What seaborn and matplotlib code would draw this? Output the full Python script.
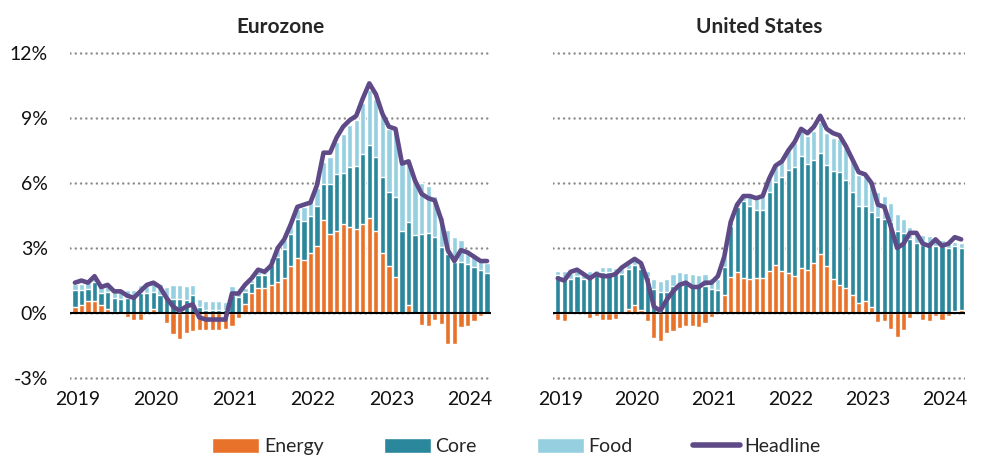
import numpy as np
import pandas as pd
import seaborn as sns
import matplotlib.pyplot as plt
from matplotlib.patches import Patch
from matplotlib.lines import Line2D

# monthly, Jan 2019 - Apr 2024 (contributions in pp, headline in %)
months = pd.date_range("2019-01-01", "2024-04-01", freq="MS")
years = [2019, 2020, 2021, 2022, 2023, 2024]

ez_energy = [0.28, 0.35, 0.55, 0.55, 0.35, 0.18, 0.05, -0.06, -0.17, -0.30, -0.31, 0.02,
             0.19, -0.03, -0.44, -0.95, -1.18, -0.92, -0.82, -0.77, -0.80, -0.80, -0.80, -0.75,
             -0.60, -0.23, 0.41, 0.94, 1.14, 1.14, 1.30, 1.45, 1.60, 2.18, 2.54, 2.44,
             2.77, 3.09, 4.29, 3.65, 3.80, 4.10, 3.99, 3.90, 4.10, 4.38, 3.77, 2.77,
             2.16, 1.64, 0.00, 0.35, -0.05, -0.56, -0.60, -0.30, -0.50, -1.41, -1.41, -0.65,
             -0.58, -0.35, -0.12, -0.05]
ez_core = [0.77, 0.70, 0.56, 0.88, 0.56, 0.77, 0.63, 0.63, 0.70, 0.77, 0.91, 0.91,
           0.77, 0.84, 0.70, 0.65, 0.65, 0.60, 0.84, 0.28, 0.16, 0.16, 0.16, 0.16,
           0.84, 0.76, 0.55, 0.46, 0.60, 0.60, 0.90, 1.14, 1.37, 1.47, 1.80, 1.82,
           1.72, 1.86, 1.68, 2.30, 2.60, 2.37, 2.74, 2.87, 3.24, 3.38, 3.41, 3.50,
           3.44, 3.72, 3.77, 3.85, 3.60, 3.65, 3.68, 3.50, 3.04, 2.74, 2.36, 2.36,
           2.25, 2.13, 2.00, 1.87]
ez_food = [0.30, 0.28, 0.28, 0.30, 0.32, 0.32, 0.28, 0.34, 0.34, 0.30, 0.38, 0.42,
           0.44, 0.48, 0.52, 0.66, 0.64, 0.66, 0.45, 0.36, 0.38, 0.38, 0.38, 0.36,
           0.40, 0.20, 0.20, 0.14, 0.14, 0.12, 0.32, 0.40, 0.38, 0.40, 0.46, 0.64,
           0.70, 0.84, 1.00, 1.26, 1.50, 1.78, 1.96, 2.12, 2.36, 2.55, 2.72, 2.90,
           2.90, 3.05, 3.30, 2.80, 2.60, 2.36, 2.20, 1.90, 1.40, 1.10, 1.15, 1.00,
           0.67, 0.50, 0.43, 0.44]
ez_headline = [1.4, 1.5, 1.4, 1.7, 1.2, 1.3, 1.0, 1.0, 0.8, 0.7, 1.0, 1.3,
               1.4, 1.2, 0.7, 0.3, 0.1, 0.3, 0.4, -0.2, -0.3, -0.3, -0.3, -0.3,
               0.9, 0.9, 1.3, 1.6, 2.0, 1.9, 2.2, 3.0, 3.4, 4.1, 4.9, 5.0,
               5.1, 5.9, 7.4, 7.4, 8.1, 8.6, 8.9, 9.1, 9.9, 10.6, 10.1, 9.2,
               8.6, 8.5, 6.9, 7.0, 6.1, 5.5, 5.3, 5.2, 4.3, 2.9, 2.4, 2.9,
               2.8, 2.6, 2.4, 2.4]

us_energy = [-0.33, -0.35, -0.03, 0.05, -0.02, -0.22, -0.14, -0.30, -0.30, -0.28, -0.03, 0.20,
             0.39, 0.15, -0.39, -1.17, -1.28, -0.93, -0.85, -0.70, -0.62, -0.58, -0.65, -0.46,
             -0.20, 0.05, 0.85, 1.65, 1.88, 1.60, 1.55, 1.60, 1.60, 1.95, 2.20, 1.92,
             1.85, 1.70, 2.10, 2.00, 2.30, 2.74, 2.18, 1.57, 1.30, 1.15, 0.85, 0.46,
             0.54, 0.30, -0.43, -0.35, -0.74, -1.10, -0.77, -0.23, 0.00, -0.30, -0.38, -0.15,
             -0.30, -0.12, 0.08, 0.15]
us_core = [1.74, 1.66, 1.58, 1.66, 1.58, 1.66, 1.74, 1.90, 1.90, 1.82, 1.82, 1.82,
           1.82, 1.90, 1.66, 1.10, 0.95, 0.95, 1.26, 1.34, 1.34, 1.26, 1.26, 1.26,
           1.10, 1.03, 1.26, 2.37, 3.00, 3.55, 3.40, 3.16, 3.16, 3.63, 3.87, 4.35,
           4.74, 5.06, 5.14, 4.90, 4.74, 4.66, 4.66, 4.98, 5.20, 4.98, 4.74, 4.50,
           4.42, 4.35, 4.42, 4.35, 4.19, 3.80, 3.70, 3.40, 3.24, 3.16, 3.16, 3.08,
           3.08, 3.00, 3.00, 2.84]
us_food = [0.22, 0.27, 0.28, 0.24, 0.27, 0.26, 0.26, 0.23, 0.24, 0.28, 0.27, 0.24,
           0.24, 0.24, 0.26, 0.47, 0.54, 0.61, 0.55, 0.55, 0.53, 0.53, 0.50, 0.53,
           0.51, 0.49, 0.47, 0.32, 0.30, 0.32, 0.46, 0.50, 0.62, 0.72, 0.82, 0.85,
           0.95, 1.07, 1.19, 1.27, 1.36, 1.40, 1.47, 1.54, 1.51, 1.47, 1.43, 1.40,
           1.36, 1.28, 1.15, 1.04, 0.90, 0.77, 0.66, 0.58, 0.50, 0.45, 0.39, 0.36,
           0.30, 0.25, 0.22, 0.22]
us_headline = [1.6, 1.5, 1.9, 2.0, 1.8, 1.6, 1.8, 1.7, 1.7, 1.8, 2.1, 2.3,
               2.5, 2.3, 1.5, 0.3, 0.1, 0.6, 1.0, 1.3, 1.4, 1.2, 1.2, 1.4,
               1.4, 1.7, 2.6, 4.2, 5.0, 5.4, 5.4, 5.3, 5.4, 6.2, 6.8, 7.0,
               7.5, 7.9, 8.5, 8.3, 8.6, 9.1, 8.5, 8.3, 8.2, 7.7, 7.1, 6.5,
               6.4, 6.0, 5.0, 4.9, 4.0, 3.0, 3.2, 3.7, 3.7, 3.2, 3.1, 3.4,
               3.1, 3.2, 3.5, 3.4]

ENERGY = "#E8722A"
CORE = "#2A879C"
FOOD = "#95CFE0"
HEAD = "#5E4A87"

sns.set_theme(style="white")
plt.rcParams["font.family"] = ["Lato", "DejaVu Sans"]


def draw_panel(ax, energy, core, food, headline, title, show_y):
    df = pd.DataFrame({
        "month": np.arange(len(months)),
        "energy": energy,
        "core": core,
        "food": food,
        "headline": headline,
    })
    df["core_top"] = df["energy"].clip(lower=0) + df["core"]
    df["food_top"] = df["core_top"] + df["food"]

    # overlay cumulative stacks, tallest first
    for col, color in [("food_top", FOOD), ("core_top", CORE), ("energy", ENERGY)]:
        sns.barplot(data=df, x="month", y=col, color=color, width=0.8,
                    saturation=1, errorbar=None, ax=ax, zorder=2)
    ax.axhline(0, color="black", lw=1.5, zorder=3)
    sns.lineplot(data=df, x="month", y="headline", color=HEAD, lw=3.3,
                 ax=ax, zorder=4, solid_joinstyle="round", solid_capstyle="round")

    ax.set_xlim(-0.75, 63.6)
    ax.set_ylim(-3.3, 12.3)
    ax.set_yticks([-3, 0, 3, 6, 9, 12])
    ax.set_yticklabels([f"{v}%" for v in [-3, 0, 3, 6, 9, 12]])
    ax.set_xticks(np.arange(0, 64, 12) + 0.4)
    ax.set_xticklabels([str(y) for y in years])
    ax.yaxis.grid(True, color="#8c8c8c", lw=1.8, linestyle=(0, (0.01, 2.1)),
                  dash_capstyle="round", zorder=1)
    ax.xaxis.grid(False)
    ax.set_axisbelow(True)
    ax.set_xlabel("")
    ax.set_ylabel("")
    ax.set_title(title, fontsize=15, fontweight="bold", pad=10)
    ax.tick_params(axis="both", length=0, labelsize=14, colors="#111111")
    ax.tick_params(axis="x", pad=5)
    ax.tick_params(axis="y", pad=16, labelleft=show_y)
    for s in ax.spines.values():
        s.set_visible(False)


fig = plt.figure(figsize=(9.86, 4.63), dpi=100)
ax1 = fig.add_axes([70 / 986, 0.1695, 421 / 986, 0.730])
ax2 = fig.add_axes([553 / 986, 0.1695, 412 / 986, 0.730])

draw_panel(ax1, ez_energy, ez_core, ez_food, ez_headline, "Eurozone", True)
draw_panel(ax2, us_energy, us_core, us_food, us_headline, "United States", False)

handles = [
    Patch(facecolor=ENERGY, label="Energy"),
    Patch(facecolor=CORE, label="Core"),
    Patch(facecolor=FOOD, label="Food"),
    Line2D([0], [0], color=HEAD, lw=4, label="Headline"),
]
fig.legend(handles=handles, loc="center", bbox_to_anchor=(0.524, 0.035), ncol=4,
           frameon=False, fontsize=14, handlelength=2.4, handleheight=0.8,
           handletextpad=0.25, columnspacing=3.1)

fig.savefig("out.png", dpi=100)
